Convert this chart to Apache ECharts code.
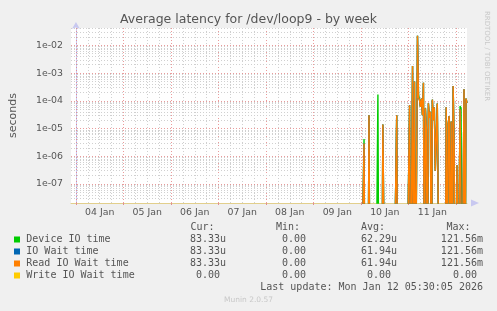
<!DOCTYPE html>
<html><head><meta charset="utf-8">
<script src="https://cdn.jsdelivr.net/npm/echarts@6/dist/echarts.min.js"></script>
<style>html,body{margin:0;padding:0;background:#f0f0f0}#c{width:497px;height:311px}</style>
</head><body><div id="c"></div>
<script>
// ---- data ----
const dayLabels = ['04 Jan','05 Jan','06 Jan','07 Jan','08 Jan','09 Jan','10 Jan','11 Jan'];
const yTickLabels = ['1e-07','1e-06','1e-05','1e-04','1e-03','1e-02'];
const axisStartHour = -2.5;   // hours relative to 04 Jan 00:00
const axisEndHour = 197.5;
const dataStartHour = 144;    // 10 Jan 00:00
const stepHours = 0.5;

const readIOWait = [
  0,0,0,2.9e-6,0,0,0,0,3.0e-5,0,
  0,0,0,0,0,0,0,0,0,0,
  0,0,1.4e-5,1.2e-5,0,0,0,0,0,0,
  0,0,0,0,0,0,3.0e-5,0,0,0,
  0,0,0,0,0,0,0,0,0,6.9e-5,
  0,0,1.8e-3,0,5.0e-4,0,0,2.2e-2,1.3e-4,1.1e-4,
  6.0e-5,1.2e-4,3.0e-5,4.5e-4,0,5.4e-5,9.0e-6,0,8.2e-5,2.4e-5,
  4.0e-5,0,1.1e-4,2.0e-5,5.8e-5,3e-7,5.0e-6,8.0e-5,7.0e-5,0,
  0,0,0,0,0,0,5.8e-5,0,1.5e-5,2.8e-5,
  0,1.8e-5,0,3.4e-4,3.0e-6,0,0,4.8e-7,0,0,
  5.0e-5,5.4e-5,0,0,2.6e-4,0,1.2e-4,8.333e-5
];
const ioWait = readIOWait.slice();
const deviceIO = [
  0,0,0,4.2e-6,0,0,0,0,3.0e-5,0,
  0,0,0,0,0,0,0,1.7e-4,0,0,
  0,0,1.4e-5,1.2e-5,0,0,0,0,0,0,
  0,0,0,0,0,0,3.0e-5,0,0,0,
  0,0,0,0,0,0,0,0,0,6.9e-5,
  0,0,1.8e-3,0,5.0e-4,0,0,2.2e-2,1.7e-4,1.1e-4,
  6.0e-5,1.2e-4,3.0e-5,4.5e-4,0,5.4e-5,9.0e-6,0,8.2e-5,2.4e-5,
  4.0e-5,0,1.1e-4,2.0e-5,5.8e-5,3e-7,5.0e-6,8.0e-5,7.0e-5,0,
  0,0,0,0,0,0,5.8e-5,0,1.5e-5,2.8e-5,
  0,1.8e-5,0,3.4e-4,3.0e-6,0,0,4.8e-7,0,0,
  6.5e-5,5.4e-5,0,0,2.6e-4,0,1.2e-4,8.333e-5
];
const writeIOWait = new Array(readIOWait.length).fill(0);

const legendNames = ['Device IO time','IO Wait time','Read IO Wait time','Write IO Wait time'];
const legendColors = ['#00CC00','#0066B3','#FF8000','#FFCC00'];
const curVals = ['83.33u','83.33u','83.33u','0.00 '];
const minVals = ['0.00 ','0.00 ','0.00 ','0.00 '];
const avgVals = ['62.29u','61.94u','61.94u','0.00 '];
const maxVals = ['121.56m','121.56m','121.56m','0.00 '];
const lastUpdate = 'Last update: Mon Jan 12 05:30:05 2026';

// ---- build ----
const Y_MIN = 2.06e-8, Y_MAX = 0.0422;
const FLOOR = 1e-12;
function toSeries(vals){ return vals.map((v,i)=>[dataStartHour + i*stepHours, v>0 ? v : FLOOR]); }

const majorRed = 'rgba(230,130,130,0.8)';
const minorGray = '#d0d0d0';
const vLines = [], hLines = [];
for (let h = 0; h <= 192; h += 6) {
  vLines.push({xAxis: h, lineStyle:{color: h % 24 === 0 ? majorRed : minorGray, type:[1,2], width:1}});
}
for (let e = -8; e <= -2; e++) {
  for (let k = 1; k <= 9; k++) {
    const v = k * Math.pow(10, e);
    if (v < Y_MIN || v > Y_MAX) continue;
    hLines.push({yAxis: Math.log10(v), lineStyle:{color: k === 1 ? majorRed : minorGray, type:[1,2], width:1}});
  }
}

const mono = '"DejaVu Sans Mono", monospace';
const txtColor = '#555';
const graphics = [];
function T(x,y,text,opt){ graphics.push({type:'text', x, y, silent:true, style:Object.assign({text, font:'10px '+mono, fill:txtColor, textVerticalAlign:'middle'}, opt||{})}); }
T(190.5,227.5,'Cur:'); T(276,227.5,'Min:'); T(361,227.5,'Avg:'); T(446.5,227.5,'Max:');
legendNames.forEach((n,i)=>{
  const y = 239.5 + i*12;
  graphics.push({type:'rect', shape:{x:14,y:y-3,width:6,height:6}, style:{fill:legendColors[i]}, silent:true});
  T(26.3,y,n);
  T(226,y,curVals[i],{textAlign:'right'});
  T(312,y,minVals[i],{textAlign:'right'});
  T(397,y,avgVals[i],{textAlign:'right'});
  T(483,y,maxVals[i],{textAlign:'right'});
});
T(483,287.5,lastUpdate,{textAlign:'right'});
graphics.push({type:'text', x:248.5, y:300.5, silent:true, style:{text:'Munin 2.0.57', font:'7.5px "DejaVu Sans"', fill:'#c8c8c8', textAlign:'center', textVerticalAlign:'middle'}});
graphics.push({type:'text', x:487, y:56, rotation:-Math.PI/2, silent:true, style:{text:'RRDTOOL / TOBI OETIKER', font:'7px "DejaVu Sans"', fill:'#c8c8c8', textAlign:'center', textVerticalAlign:'middle'}});
graphics.push({type:'polygon', silent:true, shape:{points:[[471,199.5],[479,203],[471,206.5]]}, style:{fill:'#c8c8f0'}});

const chart = echarts.init(document.getElementById('c'), null, {renderer:'canvas'});
chart.setOption({
  animation:false,
  backgroundColor:'#f0f0f0',
  title:{text:'Average latency for /dev/loop9 - by week', left:'center', top:13, padding:0,
    textStyle:{fontFamily:'"DejaVu Sans"', fontSize:12.5, fontWeight:'normal', color:'#555'}},
  grid:{left:67, right:30, top:28, bottom:108, show:true, backgroundColor:'#ffffff', borderWidth:0, containLabel:false},
  xAxis:{type:'value', min:axisStartHour, max:axisEndHour,
    axisLine:{show:true, onZero:false, lineStyle:{color:'#e2cf8c', width:1}},
    axisTick:{show:true, customValues:[0,24,48,72,96,120,144,168,192], length:2, inside:false, lineStyle:{color:'#e09090'}},
    axisLabel:{customValues:[12,36,60,84,108,132,156,180], formatter:v=>dayLabels[Math.round((v-12)/24)]||'',
      fontFamily:'"DejaVu Sans"', fontSize:9.4, color:txtColor, margin:5},
    splitLine:{show:false}},
  yAxis:[{type:'log', logBase:10, min:Y_MIN, max:Y_MAX, splitNumber:6,
    axisLine:{show:true, lineStyle:{color:'#c8c8f0'}, symbol:['none','arrow'], symbolSize:[6,7], symbolOffset:[0,6]},
    axisTick:{show:false}, splitLine:{show:false},
    axisLabel:{fontFamily:'"DejaVu Sans"', fontSize:9.4, color:txtColor, margin:8, showMinLabel:false, showMaxLabel:false,
      formatter:v=>{const l=Math.log10(v); const e=Math.round(l); if(Math.abs(l-e)>1e-6) return ''; return yTickLabels[e+7]||'';}},
    name:'seconds', nameLocation:'middle', nameGap:52, nameRotate:90,
    nameTextStyle:{fontFamily:'"DejaVu Sans"', fontSize:11, color:txtColor}},
   {type:'value', show:false, min:Math.log10(Y_MIN), max:Math.log10(Y_MAX), splitLine:{show:false}}],
  series:[
    {type:'line', name:'vgrid', data:[], silent:true, z:1,
      markLine:{silent:true, z:1, symbol:['none','none'], label:{show:false}, animation:false, data:vLines}},
    {type:'line', name:'hgrid', yAxisIndex:1, data:[], silent:true, z:1,
      markLine:{silent:true, z:1, symbol:['none','none'], label:{show:false}, animation:false, precision:6, data:hLines}},
    {type:'line', name:legendNames[0], data:toSeries(deviceIO), showSymbol:false, clip:true, z:2, lineStyle:{color:legendColors[0], width:1.4}},
    {type:'line', name:legendNames[1], data:toSeries(ioWait), showSymbol:false, clip:true, z:3, lineStyle:{color:legendColors[1], width:1.4}},
    {type:'line', name:legendNames[2], data:toSeries(readIOWait), showSymbol:false, clip:true, z:4, lineStyle:{color:legendColors[2], width:1.4}},
    {type:'line', name:legendNames[3], data:toSeries(writeIOWait), showSymbol:false, clip:true, z:5, lineStyle:{color:legendColors[3], width:1.4}}
  ],
  graphic:graphics
});
</script></body></html>
